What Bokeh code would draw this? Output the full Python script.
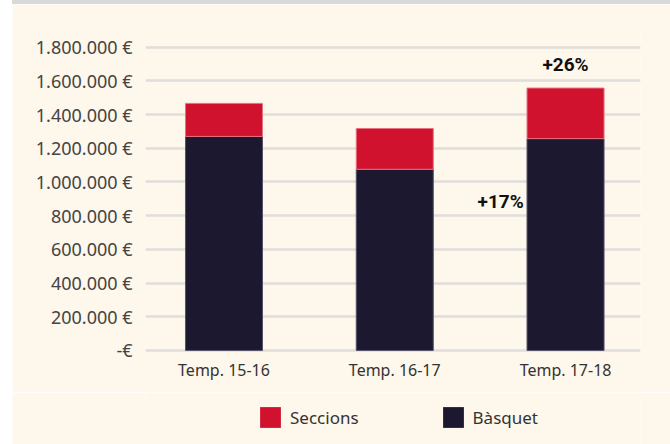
from bokeh.plotting import figure
from bokeh.layouts import column, row
from bokeh.models import (ColumnDataSource, FixedTicker, Range1d, Legend, LegendItem, Div)
from bokeh.core.properties import value
from bokeh.embed import file_html
from bokeh.resources import INLINE

# ---- data ----
categories = ["Temp. 15-16", "Temp. 16-17", "Temp. 17-18"]
basquet = [1270000, 1075000, 1257000]
seccions = [196000, 242000, 300000]
series_names = ["Seccions", "Bàsquet"]
y_ticks = [0, 200000, 400000, 600000, 800000, 1000000, 1200000, 1400000, 1600000, 1800000]
y_tick_labels = ["-€", "200.000 €", "400.000 €", "600.000 €", "800.000 €", "1.000.000 €",
                 "1.200.000 €", "1.400.000 €", "1.600.000 €", "1.800.000 €"]
annot_texts = ["+26%", "+17%"]
annot_x = [2.0, 1.62]
annot_y = [1694000, 886000]

CREAM = "#fdf7ec"
RED = "#d0122f"
DARK = "#1b1830"
FONT = "Noto Sans"

xs = list(range(len(categories)))
tops = [b + s for b, s in zip(basquet, seccions)]
src = ColumnDataSource(dict(x=xs, basquet=basquet, tops=tops, zero=[0] * len(xs)))

W = 658
spacer = Div(text="", width=12, height=444, margin=0)
band = Div(text="", width=W, height=4, margin=0,
           styles={"background-color": "#d9d9d9"})

p = figure(width=W, height=388, output_backend="svg", toolbar_location=None,
           x_range=Range1d(-0.4597, 2.439), y_range=Range1d(-30000, 1898600),
           min_border_left=133, min_border_right=30, min_border_top=26, min_border_bottom=37,
           background_fill_color=CREAM, border_fill_color=CREAM, outline_line_color=None,
           margin=0)

r_b = p.vbar(x="x", bottom="zero", top="basquet", width=0.451, source=src,
             fill_color=DARK, line_color="#55526a", line_width=1)
r_s = p.vbar(x="x", bottom="basquet", top="tops", width=0.451, source=src,
             fill_color=RED, line_color="#e8707f", line_width=1)

p.text(x=annot_x, y=annot_y, text=annot_texts, text_font=value("Roboto"),
       text_font_style="bold", text_font_size="19px", text_color="#111111",
       text_align="center", text_baseline="middle")

# axes
p.yaxis.ticker = FixedTicker(ticks=y_ticks)
p.yaxis.major_label_overrides = {t: l for t, l in zip(y_ticks, y_tick_labels)}
p.yaxis.axis_line_color = None
p.yaxis.major_tick_line_color = None
p.yaxis.minor_tick_line_color = None
p.yaxis.major_tick_out = 0
p.yaxis.major_tick_in = 0
p.yaxis.major_label_standoff = 13
p.yaxis.major_label_text_font = FONT
p.yaxis.major_label_text_font_size = "18px"
p.yaxis.major_label_text_color = "#444444"

p.xaxis.ticker = FixedTicker(ticks=xs)
p.xaxis.major_label_overrides = {i: c for i, c in zip(xs, categories)}
p.xaxis.axis_line_color = None
p.xaxis.major_tick_line_color = None
p.xaxis.minor_tick_line_color = None
p.xaxis.major_tick_out = 0
p.xaxis.major_tick_in = 0
p.xaxis.major_label_standoff = 3
p.xaxis.major_label_text_font = FONT
p.xaxis.major_label_text_font_size = "16px"
p.xaxis.major_label_text_color = "#333333"

p.xgrid.grid_line_color = None
p.ygrid.ticker = FixedTicker(ticks=y_ticks)
p.ygrid.grid_line_color = "#e0dedb"
p.ygrid.grid_line_width = 2.5

# legend strip (its frame is aligned with the main plot's frame by the column)
p2 = figure(width=W, height=52, output_backend="svg", toolbar_location=None,
            x_range=Range1d(0, 1), y_range=Range1d(0, 1),
            x_axis_location=None, y_axis_location=None,
            min_border=0, background_fill_color=CREAM, border_fill_color=CREAM,
            outline_line_color=None, margin=0)
p2.grid.visible = False
# zero-height swatch renderers; only their legend entries are visible
lr_s = p2.vbar(x=[0.5], bottom=[0.5], top=[0.5], width=0.1, fill_color=RED, line_color=None)
lr_b = p2.vbar(x=[0.5], bottom=[0.5], top=[0.5], width=0.1, fill_color=DARK, line_color=None)
legend = Legend(items=[LegendItem(label=series_names[0], renderers=[lr_s]),
                       LegendItem(label=series_names[1], renderers=[lr_b])],
                orientation="horizontal", location=(112, 14),
                glyph_width=26, glyph_height=26, label_standoff=7, spacing=81,
                padding=0, margin=0, border_line_color=None, background_fill_alpha=0,
                label_text_font=FONT, label_text_font_size="17px", label_text_color="#333333")
p2.add_layout(legend, "center")

layout = row(spacer, column(band, p, p2, spacing=0, margin=0), spacing=0, margin=0)
open("out.html", "w").write(file_html(layout, INLINE))
